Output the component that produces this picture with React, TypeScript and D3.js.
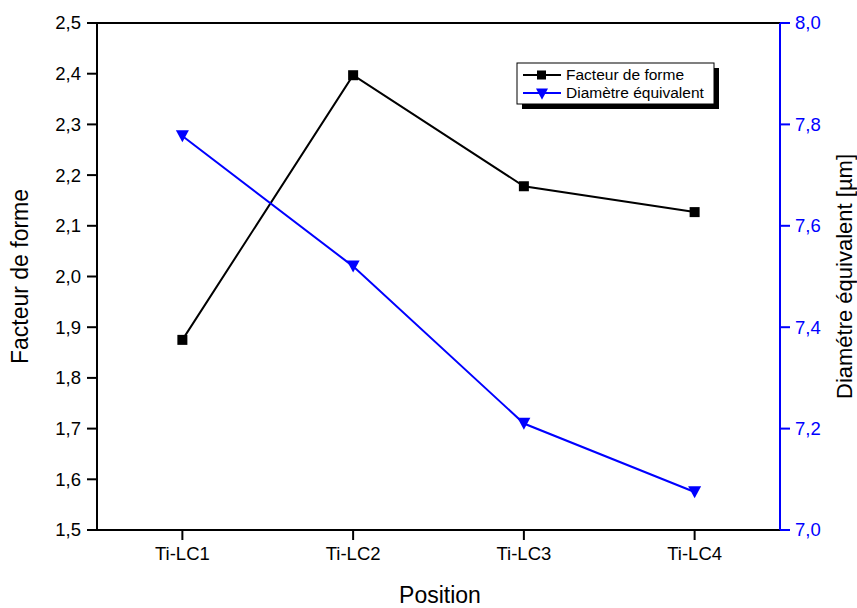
import React from "react";
import * as d3 from "d3";

const categories = ["Ti-LC1", "Ti-LC2", "Ti-LC3", "Ti-LC4"];
const facteurForme = [1.875, 2.397, 2.178, 2.127];
const diametre = [7.777, 7.52, 7.21, 7.075];
const leftTicks = [1.5, 1.6, 1.7, 1.8, 1.9, 2.0, 2.1, 2.2, 2.3, 2.4, 2.5];
const rightTicks = [7.0, 7.2, 7.4, 7.6, 7.8, 8.0];
const seriesNames = ["Facteur de forme", "Diamètre équivalent"];

const W = 857, H = 608;
const L = 97, R = 780, T = 23, B = 530;
const FONT = "'Liberation Sans', Arial, sans-serif";
const BLUE = "#0000ff";

const fmt = (v: number) => v.toFixed(1).replace(".", ",");

export default function App() {
  const x = d3.scalePoint<string>().domain(categories).range([L, R]).padding(0.5);
  const yL = d3.scaleLinear().domain([1.5, 2.5]).range([B, T]);
  const yR = d3.scaleLinear().domain([7.0, 8.0]).range([B, T]);
  const lineL = d3.line<number>().x((_, i) => x(categories[i])!).y((d) => yL(d));
  const lineR = d3.line<number>().x((_, i) => x(categories[i])!).y((d) => yR(d));
  const tri = (cx: number, cy: number, s = 6.5) =>
    `M${cx - s},${cy - s * 0.9}L${cx + s},${cy - s * 0.9}L${cx},${cy + s * 0.95}Z`;

  const lgX = 517, lgY = 63, lgW = 197, lgH = 41;

  return (
    <svg width={W} height={H} style={{ position: "absolute", left: 0, top: 0, background: "#fff" }}>
      <rect x={0} y={0} width={W} height={H} fill="#fff" />
      {/* frame */}
      <line x1={L} x2={R} y1={T} y2={T} stroke="#000" strokeWidth={2} />
      <line x1={L} x2={R} y1={B} y2={B} stroke="#000" strokeWidth={2} />
      <line x1={L} x2={L} y1={T} y2={B} stroke="#000" strokeWidth={2} />
      <line x1={R} x2={R} y1={T} y2={B} stroke={BLUE} strokeWidth={2} />
      {/* left ticks */}
      {leftTicks.map((t) => (
        <g key={"l" + t}>
          <line x1={L - 10} x2={L} y1={yL(t)} y2={yL(t)} stroke="#000" strokeWidth={2} />
          <text x={L - 16} y={yL(t)} dy="0.35em" textAnchor="end" fontFamily={FONT} fontSize={18.5} fill="#000">
            {fmt(t)}
          </text>
        </g>
      ))}
      {/* right ticks */}
      {rightTicks.map((t) => (
        <g key={"r" + t}>
          <line x1={R} x2={R + 10} y1={yR(t)} y2={yR(t)} stroke={BLUE} strokeWidth={2} />
          <text x={R + 15} y={yR(t)} dy="0.35em" textAnchor="start" fontFamily={FONT} fontSize={18.5} fill={BLUE}>
            {fmt(t)}
          </text>
        </g>
      ))}
      {/* bottom ticks */}
      {categories.map((c) => (
        <g key={c}>
          <line x1={x(c)} x2={x(c)} y1={B} y2={B + 10} stroke="#000" strokeWidth={2} />
          <text x={x(c)} y={B + 30} textAnchor="middle" fontFamily={FONT} fontSize={18.5} fill="#000">
            {c}
          </text>
        </g>
      ))}
      {/* titles */}
      <text x={440} y={603} textAnchor="middle" fontFamily={FONT} fontSize={23} fill="#000">Position</text>
      <text transform={`translate(28,${(T + B) / 2}) rotate(-90)`} textAnchor="middle" fontFamily={FONT} fontSize={23} fill="#000">
        Facteur de forme
      </text>
      <text transform={`translate(852,${(T + B) / 2}) rotate(-90)`} textAnchor="middle" fontFamily={FONT} fontSize={22} fill="#000">
        Diamétre équivalent [µm]
      </text>
      {/* series */}
      <path d={lineL(facteurForme)!} fill="none" stroke="#000" strokeWidth={2} />
      <path d={lineR(diametre)!} fill="none" stroke={BLUE} strokeWidth={2} />
      {facteurForme.map((v, i) => (
        <rect key={"s" + i} x={x(categories[i])! - 5} y={yL(v) - 5} width={10} height={10} fill="#000" />
      ))}
      {diametre.map((v, i) => (
        <path key={"t" + i} d={tri(x(categories[i])!, yR(v))} fill={BLUE} />
      ))}
      {/* legend */}
      <rect x={lgX + 5} y={lgY + 5} width={lgW} height={lgH} fill="#000" />
      <rect x={lgX} y={lgY} width={lgW} height={lgH} fill="#fff" stroke="#000" strokeWidth={1} />
      <line x1={lgX + 6} x2={lgX + 44} y1={lgY + 12} y2={lgY + 12} stroke="#000" strokeWidth={2} />
      <rect x={lgX + 20} y={lgY + 7.5} width={9} height={9} fill="#000" />
      <text x={lgX + 49} y={lgY + 12} dy="0.35em" fontFamily={FONT} fontSize={15.5} fill="#000">{seriesNames[0]}</text>
      <line x1={lgX + 6} x2={lgX + 44} y1={lgY + 30} y2={lgY + 30} stroke={BLUE} strokeWidth={2} />
      <path d={tri(lgX + 25, lgY + 31, 6)} fill={BLUE} />
      <text x={lgX + 49} y={lgY + 30} dy="0.35em" fontFamily={FONT} fontSize={15.5} fill="#000">{seriesNames[1]}</text>
    </svg>
  );
}
